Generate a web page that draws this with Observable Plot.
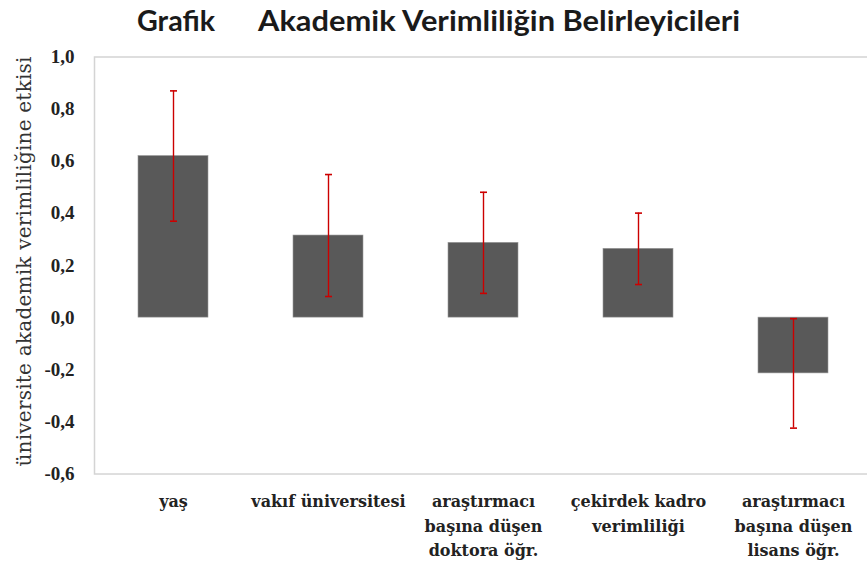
<!DOCTYPE html>
<html>
<head>
<meta charset="utf-8">
<script src="https://cdn.jsdelivr.net/npm/d3@7"></script>
<script src="https://cdn.jsdelivr.net/npm/@observablehq/plot@0.6"></script>
<style>
  html, body { margin: 0; padding: 0; background: #fff; overflow: hidden; }
  #chart { position: relative; width: 867px; height: 571px; }
</style>
</head>
<body>
<div id="chart"></div>
<script>
const categories = ["yaş", "vakıf üniversitesi", "araştırmacı başına düşen doktora öğr.", "çekirdek kadro verimliliği", "araştırmacı başına düşen lisans öğr."];
const tickLabels = ["yaş", "vakıf üniversitesi", "araştırmacı\nbaşına düşen\ndoktora öğr.", "çekirdek kadro\nverimliliği", "araştırmacı\nbaşına düşen\nlisans öğr."];
const values = [0.62, 0.315, 0.287, 0.264, -0.214];
const errors = [0.25, 0.234, 0.194, 0.137, 0.210];
const yTicks = [-0.6, -0.4, -0.2, 0.0, 0.2, 0.4, 0.6, 0.8, 1.0];
const yTitle = "üniversite akademik verimliliğine etkisi";

const data = categories.map((c, i) => ({cat: c, v: values[i], lo: values[i] - errors[i], hi: values[i] + errors[i]}));
const labelOf = new Map(categories.map((c, i) => [c, tickLabels[i]]));
const fmt = d => d.toFixed(1).replace(".", ",").replace("-0,0", "0,0");

// horizontal cap symbol for error bars
const cap = {draw(ctx, size) { const w = Math.sqrt(size / Math.PI); ctx.moveTo(-w, 0); ctx.lineTo(w, 0); }};

const plot = Plot.plot({
  width: 867,
  height: 571,
  marginTop: 56.5,
  marginBottom: 97.5,
  marginLeft: 94,
  marginRight: -5,
  style: {background: "#fff"},
  x: {domain: categories, paddingInner: 0.55, paddingOuter: 0.275, label: null},
  y: {domain: [-0.6, 1.0], label: null},
  marks: [
    Plot.frame({stroke: "#d4d4d4", strokeWidth: 1.5}),
    Plot.barY(data, {x: "cat", y: "v", fill: "#595959", stroke: "#9a9a9a", strokeWidth: 0.6}),
    Plot.ruleX(data, {x: "cat", y1: "lo", y2: "hi", stroke: "#cc0000", strokeWidth: 1.4}),
    Plot.dot(data, {x: "cat", y: "lo", symbol: cap, r: 3.5, stroke: "#cc0000", strokeWidth: 1.6}),
    Plot.dot(data, {x: "cat", y: "hi", symbol: cap, r: 3.5, stroke: "#cc0000", strokeWidth: 1.6}),
    Plot.axisY({ticks: yTicks, tickFormat: fmt, tickSize: 0, tickPadding: 20, fontSize: 19, fontWeight: "bold", fontFamily: "Liberation Serif", fill: "#222", label: null}),
    Plot.axisX({tickFormat: d => labelOf.get(d), tickSize: 0, tickPadding: 16, fontSize: 16, fontWeight: "bold", fontFamily: "DejaVu Serif", fill: "#222", lineHeight: 1.53, label: null}),
    Plot.text([yTitle], {frameAnchor: "left", textAnchor: "middle", dx: -70, dy: -4, rotate: -90, fontSize: 20, fontFamily: "DejaVu Serif", fill: "#333"})
  ]
});
document.getElementById("chart").appendChild(plot);

const svg = d3.select(plot);
// stretch the y title to the reference's length
svg.selectAll("text").filter(function() { return this.textContent === yTitle; })
  .attr("textLength", 410).attr("lengthAdjust", "spacing");

// Title
svg.append("text").attr("x", 137).attr("y", 31).attr("text-anchor", "start").attr("font-family", "Lato").attr("font-weight", "bold").attr("font-size", 28).attr("fill", "#1a1a1a")
  .attr("textLength", 78).attr("lengthAdjust", "spacingAndGlyphs").text("Grafik");
svg.append("text").attr("x", 258).attr("y", 31).attr("text-anchor", "start").attr("font-family", "Lato").attr("font-weight", "bold").attr("font-size", 28).attr("fill", "#1a1a1a")
  .attr("textLength", 482).attr("lengthAdjust", "spacingAndGlyphs").text("Akademik Verimliliğin Belirleyicileri");
</script>
</body>
</html>
